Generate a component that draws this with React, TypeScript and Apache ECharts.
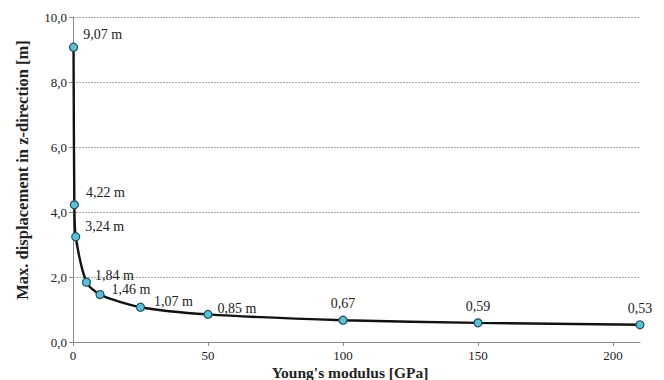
import React, { useEffect, useRef } from "react";
import * as echarts from "echarts";

const xValues = [0.2, 0.5, 1, 5, 10, 25, 50, 100, 150, 210];
const yValues = [9.07, 4.22, 3.24, 1.84, 1.46, 1.07, 0.85, 0.67, 0.59, 0.53];
const labelTexts = ["9,07 m", "4,22 m", "3,24 m", "1,84 m", "1,46 m", "1,07 m", "0,85 m", "0,67", "0,59", "0,53"];
const xTicks = [0, 50, 100, 150, 200];
const yTicks = [0, 2, 4, 6, 8, 10];
const xTitle = "Young's modulus [GPa]";
const yTitle = "Max. displacement in z-direction [m]";

const labelPlacement: any[] = [
  { position: "right", offset: [0, -13] },
  { position: "right", offset: [2, -12] },
  { position: "right", offset: [0, -10] },
  { position: "right", offset: [-1, -7] },
  { position: "right", offset: [2, -5] },
  { position: "right", offset: [4, -6] },
  { position: "right", offset: [0, -6] },
  { position: "top", offset: [0, 0] },
  { position: "top", offset: [0, 0] },
  { position: "top", offset: [0, 0] },
];

const FONT = "Times New Roman, Liberation Serif, DejaVu Serif, serif";

export default function App() {
  const ref = useRef<HTMLDivElement>(null);
  useEffect(() => {
    const chart = echarts.init(ref.current!, null, { renderer: "svg" });
    const data = xValues.map((x, i) => ({
      value: [x, yValues[i]],
      label: {
        show: true,
        formatter: labelTexts[i],
        position: labelPlacement[i].position,
        offset: labelPlacement[i].offset,
        distance: 5,
        fontFamily: FONT,
        fontSize: 14,
        color: "#222",
      },
    }));
    chart.setOption({
      animation: false,
      backgroundColor: "#fff",
      textStyle: { fontFamily: FONT },
      grid: { left: 73, right: 24, top: 17, bottom: 38, containLabel: false },
      graphic: [
        {
          type: "text",
          x: 22,
          y: 170,
          rotation: Math.PI / 2,
          style: {
            text: yTitle,
            font: "bold 16.5px " + FONT,
            fill: "#222",
            align: "center",
            verticalAlign: "middle",
          },
        },
        {
          type: "text",
          x: 350,
          y: 372,
          style: {
            text: xTitle,
            font: "bold 15.5px " + FONT,
            fill: "#222",
            align: "center",
            verticalAlign: "middle",
          },
        },
      ],
      xAxis: {
        type: "value",
        min: 0,
        max: 210,
        interval: 50,
        axisLine: { show: true, lineStyle: { color: "#888", width: 1 } },
        axisTick: { show: true, length: 4, lineStyle: { color: "#888" } },
        axisLabel: {
          margin: 7,
          fontFamily: FONT,
          fontSize: 13,
          color: "#222",
          showMaxLabel: false,
          formatter: (v: number) => (xTicks.includes(v) ? String(v) : ""),
        },
        splitLine: { show: false },
      },
      yAxis: {
        type: "value",
        min: 0,
        max: 10,
        interval: 2,
        axisLine: { show: true, lineStyle: { color: "#888", width: 1 } },
        axisTick: { show: true, length: 4, lineStyle: { color: "#888" } },
        axisLabel: {
          margin: 6,
          fontFamily: FONT,
          fontSize: 13,
          color: "#222",
          formatter: (v: number) => (yTicks.includes(v) ? v.toFixed(1).replace(".", ",") : ""),
        },
        splitLine: { show: true, lineStyle: { color: "#aaa", type: [2, 1], width: 1 } },
      },
      series: [
        {
          type: "line",
          data,
          smooth: 0.25,
          symbol: "circle",
          symbolSize: 8,
          lineStyle: { color: "#111", width: 2.4 },
          itemStyle: { color: "#5bc0d8", borderColor: "#1f4f5e", borderWidth: 1.2 },
          z: 3,
        },
      ],
    });
    return () => chart.dispose();
  }, []);
  return <div ref={ref} style={{ width: 664, height: 380, position: "absolute", left: 0, top: 0 }} />;
}
